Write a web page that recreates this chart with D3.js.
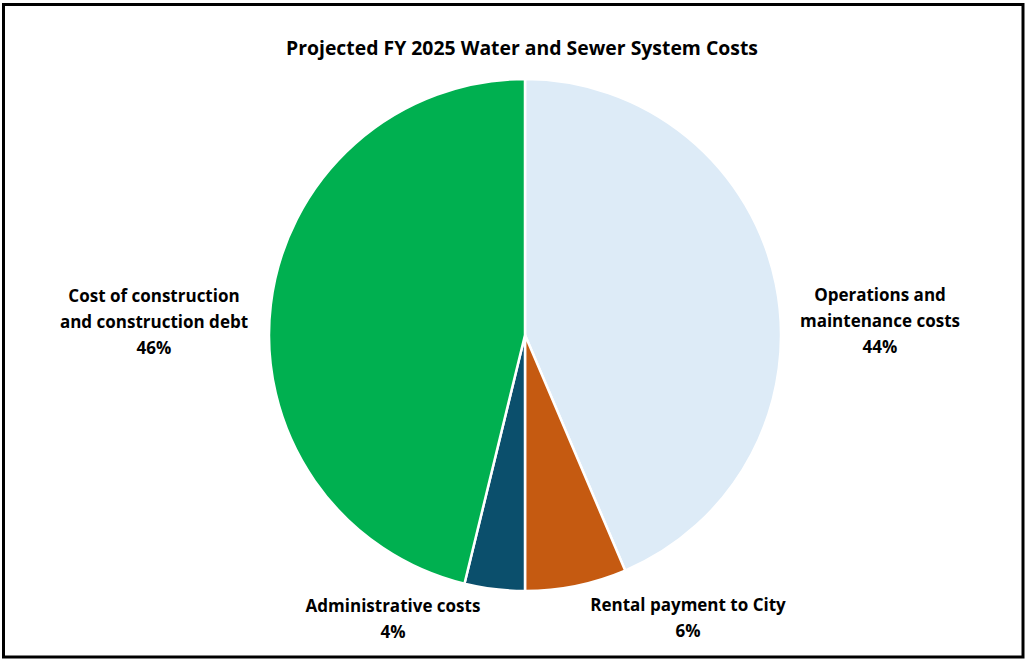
<!DOCTYPE html>
<html>
<head>
<meta charset="utf-8">
<script src="https://cdn.jsdelivr.net/npm/d3@7"></script>
<style>
  body { margin: 0; background: #fff; }
  text { font-family: "Open Sans", Lato, sans-serif; font-weight: bold; fill: #000; }
</style>
</head>
<body>
<svg id="chart"></svg>
<script>
// data
const categories = ["Operations and maintenance costs", "Rental payment to City", "Administrative costs", "Cost of construction and construction debt"];
const shares = [43.6, 6.4, 3.8, 46.2];
const labelLines = [
  ["Operations and", "maintenance costs"],
  ["Rental payment to City"],
  ["Administrative costs"],
  ["Cost of construction", "and construction debt"]
];
const title = "Projected FY 2025 Water and Sewer System Costs";

const colors = ["#DDEBF7", "#C55A11", "#0B4F6C", "#00B050"];
// label anchor (center of first line), by slice index
const labelAt = [[880, 296], [688, 606], [393, 607], [154, 297]];

const width = 1029, height = 664;
const cx = 525, cy = 335, r = 256;

const svg = d3.select("#chart").attr("width", width).attr("height", height);

svg.append("rect").attr("x", 3.5).attr("y", 4.5).attr("width", 1019.5).attr("height", 652.5)
  .attr("fill", "none").attr("stroke", "#000").attr("stroke-width", 3);

svg.append("text").attr("x", 522).attr("y", 50).attr("text-anchor", "middle")
  .attr("dominant-baseline", "middle").attr("font-size", "19.4px").text(title);

const data = categories.map((c, i) => ({ name: c, value: shares[i], i: i }));
const pie = d3.pie().value(d => d.value).sort(null);
const arc = d3.arc().innerRadius(0).outerRadius(r);

const g = svg.append("g").attr("transform", `translate(${cx},${cy})`);
g.selectAll("path").data(pie(data)).join("path")
  .attr("d", arc).attr("fill", d => colors[d.data.i])
  .attr("stroke", "#fff").attr("stroke-width", 2.5).attr("stroke-linejoin", "round");

const lh = 26;
data.forEach((d, i) => {
  const t = svg.append("text").attr("text-anchor", "middle").attr("font-size", "17px");
  const lines = labelLines[i].concat([Math.round(d.value) + "%"]);
  lines.forEach((ln, k) => {
    t.append("tspan").attr("x", labelAt[i][0]).attr("y", labelAt[i][1] + k * lh)
      .attr("dominant-baseline", "middle").text(ln);
  });
});
</script>
</body>
</html>
